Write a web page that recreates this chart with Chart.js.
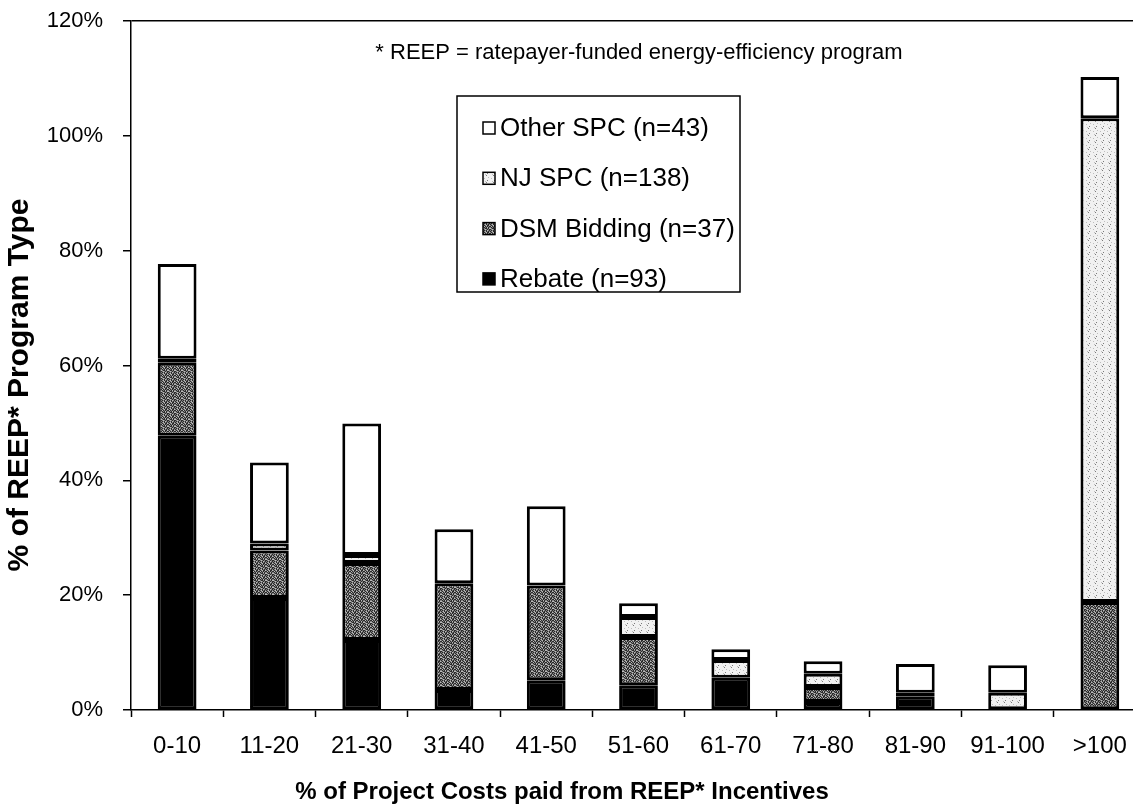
<!DOCTYPE html>
<html><head><meta charset="utf-8">
<script src="https://cdn.jsdelivr.net/npm/chart.js@4.4.1/dist/chart.umd.min.js"></script>
<style>
html,body{margin:0;padding:0;background:#fff;overflow:hidden;}
#wrap{width:1133px;height:811px;overflow:hidden;position:relative;background:#fff;}
#wrap canvas{position:absolute;left:0;top:-12px;}
</style></head><body>
<div id="wrap"><canvas id="c" width="1150" height="823"></canvas></div>
<script>
// ---- data ----
const categories = ['0-10','11-20','21-30','31-40','41-50','51-60','61-70','71-80','81-90','91-100','>100'];
const rebate   = [47.8, 19.5, 12.2,  3.5,  5.2, 4.3, 5.6, 1.4, 2.4, 0.0,  0.0];
const dsm      = [12.7,  8.3, 13.4, 18.6, 16.5, 8.4, 0.0, 2.6, 0.0, 0.0, 18.8];
const njSpc    = [ 0.7,  1.2,  1.4,  0.0,  0.0, 3.5, 3.1, 2.3, 0.6, 3.0, 84.3];
const otherSpc = [16.5, 14.1, 22.9,  9.4, 13.8, 2.4, 1.9, 2.2, 5.0, 4.8,  7.2];
const seriesLabels = ['Rebate (n=93)', 'DSM Bidding (n=37)', 'NJ SPC (n=138)', 'Other SPC (n=43)'];
const yTickValues = [0, 20, 40, 60, 80, 100, 120];
const note = '* REEP = ratepayer-funded energy-efficiency program';
const xTitle = '% of Project Costs paid from REEP* Incentives';
const yTitle = '% of REEP* Program Type';

const FONT = '"Liberation Sans", Arial, Helvetica, sans-serif';
const SHIFT = 12; // canvas is placed 12px above the page top
const canvas = document.getElementById('c');
const ctx = canvas.getContext('2d');

function tilePattern(rows, colors) {
  const h = rows.length, w = rows[0].length;
  const t = document.createElement('canvas'); t.width = w; t.height = h;
  const g = t.getContext('2d');
  for (let y = 0; y < h; y++) for (let x = 0; x < w; x++) {
    g.fillStyle = colors[rows[y][x]]; g.fillRect(x, y, 1, 1);
  }
  return ctx.createPattern(t, 'repeat');
}
const dsmFill = tilePattern([
  '#+.#+#+',
  '+#+.##.',
  '#.#+#+#',
  '+#+#.#+',
  '.+##+#.',
  '#+.+#+#',
  '+#+#.+#'
], {'#': '#2a2a2a', '+': '#808080', '.': '#bcbcbc'});
const njFill = tilePattern([
  '...o...',
  '.......',
  '.....+.',
  '.+.....',
  '.......',
  '....o..',
  '..+....'
], {'.': '#f1f1f1', 'o': '#7a7a7a', '+': '#bdbdbd'});

const fills = ['#000000', dsmFill, njFill, '#ffffff'];
const seriesData = [rebate, dsm, njSpc, otherSpc];

const datasets = seriesData.map((d, i) => ({
  label: seriesLabels[i],
  data: d,
  backgroundColor: fills[i],
  borderColor: '#000000',
  borderWidth: 3,
  borderSkipped: false,
  barPercentage: 0.42,
  categoryPercentage: 1.0
}));

const overlay = {
  id: 'overlay',
  afterDraw(chart) {
    const g = chart.ctx;
    g.save();
    g.translate(0, SHIFT);
    g.fillStyle = '#000';
    g.textBaseline = 'middle';
    // note
    g.font = '22px ' + FONT;
    g.textAlign = 'center';
    g.fillText(note, 639, 53);
    // axis titles
    g.font = 'bold 24px ' + FONT;
    g.fillText(xTitle, 562, 792);
    g.save();
    g.translate(20, 385);
    g.rotate(-Math.PI / 2);
    g.font = 'bold 30px ' + FONT;
    g.fillText(yTitle, 0, 0);
    g.restore();
    // legend
    const bx = 457, by = 96, bw = 283, bh = 196;
    g.lineWidth = 1.5;
    g.strokeStyle = '#000';
    g.fillStyle = '#fff';
    g.fillRect(bx, by, bw, bh);
    g.strokeRect(bx, by, bw, bh);
    g.font = '26px ' + FONT;
    g.textAlign = 'left';
    const order = [3, 2, 1, 0];
    order.forEach((si, k) => {
      const cy = 128 + k * 50.3;
      const ms = 12;
      const mx = 483;
      g.fillStyle = fills[si];
      g.fillRect(mx, cy - ms / 2, ms, ms);
      g.lineWidth = 1.5;
      g.strokeStyle = '#000';
      g.strokeRect(mx, cy - ms / 2, ms, ms);
      g.fillStyle = '#000';
      g.fillText(seriesLabels[si], mx + ms + 5, cy + 1);
    });
    g.restore();
  }
};

new Chart(canvas, {
  type: 'bar',
  data: { labels: categories, datasets },
  options: {
    responsive: false,
    animation: false,
    layout: { autoPadding: false, padding: { left: 0, right: 4, top: 20, bottom: 0 } },
    plugins: { legend: { display: false }, tooltip: { enabled: false } },
    scales: {
      x: {
        stacked: true,
        offset: true,
        afterFit: s => { s.height = 101; },
        grid: { color: 'rgba(0,0,0,0)', tickColor: '#000', tickLength: 7, tickWidth: 1.5, offset: true },
        border: { color: '#000', width: 1.5 },
        ticks: { color: '#000', font: { family: FONT, size: 24 }, padding: 15, maxRotation: 0, autoSkip: false }
      },
      y: {
        stacked: true,
        min: 0, max: 120,
        afterFit: s => { s.width = 131; },
        afterBuildTicks: s => { s.ticks = yTickValues.map(v => ({ value: v })); },
        grid: {
          color: c => (c.tick && c.tick.value === 120 ? '#000' : 'rgba(0,0,0,0)'),
          lineWidth: 1.5,
          tickColor: '#000', tickLength: 8, tickWidth: 1.5
        },
        border: { color: '#000', width: 1.5 },
        ticks: { color: '#000', font: { family: FONT, size: 22 }, padding: 20, callback: v => v + '%' }
      }
    }
  },
  plugins: [overlay]
});
</script>
</body></html>
